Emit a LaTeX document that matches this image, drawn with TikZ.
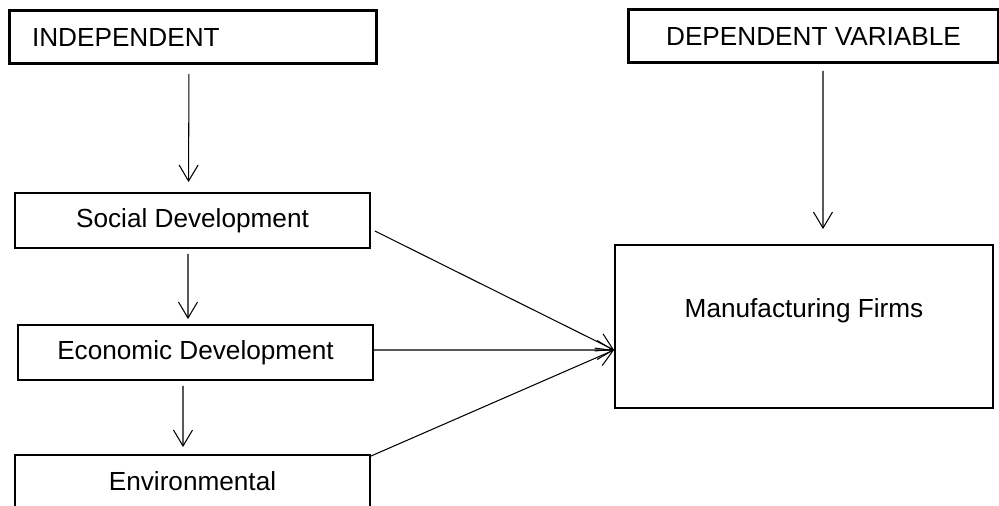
\documentclass[tikz,border=0pt]{standalone}
\usepackage{fontspec}
\setmainfont{Liberation Sans}
\usetikzlibrary{arrows.meta}
\begin{document}
\begin{tikzpicture}[x=0.02cm,y=-0.02cm,
	font=\fontsize{14.9}{18}\selectfont,
	thickbox/.style={draw,line width=1.7pt,minimum height=1.06cm,inner sep=0pt},
	thinbox/.style={draw,line width=1.1pt,minimum width=7.1cm,minimum height=1.1cm,inner sep=0pt},
	arr/.style={line width=0.6pt,-{Straight Barb[length=0.32cm,width=0.38cm,line width=0.6pt]}}]
	\useasboundingbox (0,0) rectangle (999,505);
	\node[thickbox,text width=6.44cm,inner xsep=0.46cm,align=left] (indep) at (193,37) {INDEPENDENT};
	\node[thickbox,minimum width=7.42cm] (dep) at (813.5,36) {DEPENDENT VARIABLE};
	\node[thinbox] (social) at (192.5,220.5) {Social Development};
	\node[thinbox] (econ) at (195.5,352.5) {Economic Development};
	\node[thinbox,minimum height=1.04cm] (env) at (192.5,481) {Environmental};
	\node[thinbox,minimum width=7.56cm,minimum height=3.26cm,text depth=0.76cm] (firms) at (804,326.5) {Manufacturing Firms};
	\coordinate (in) at ([yshift=-0.47cm]firms.west);
	% vertical arrows
	\draw[arr,shorten <=0.18cm,shorten >=0.2cm] ([xshift=-0.08cm]indep.south)--([xshift=-0.08cm]social.north);
	\draw[arr,shorten <=0.1cm,shorten >=0.1cm] ([xshift=-0.09cm]social.south)--([xshift=-0.15cm]econ.north);
	\draw[arr,shorten <=0.1cm,shorten >=0.14cm] ([xshift=-0.25cm]econ.south)--([xshift=-0.19cm]env.north);
	\draw[arr,shorten <=0.14cm,shorten >=0.3cm] ([xshift=0.19cm]dep.south)--([xshift=0.38cm]firms.north);
	% into the firms
	\draw[arr] ([xshift=0.08cm,yshift=-0.21cm]social.east)--(in);
	\draw[arr] ([yshift=0.05cm]econ.east)--(in);
	\draw[arr] ([yshift=-0.04cm]env.north east)--(in);
\end{tikzpicture}
\end{document}
